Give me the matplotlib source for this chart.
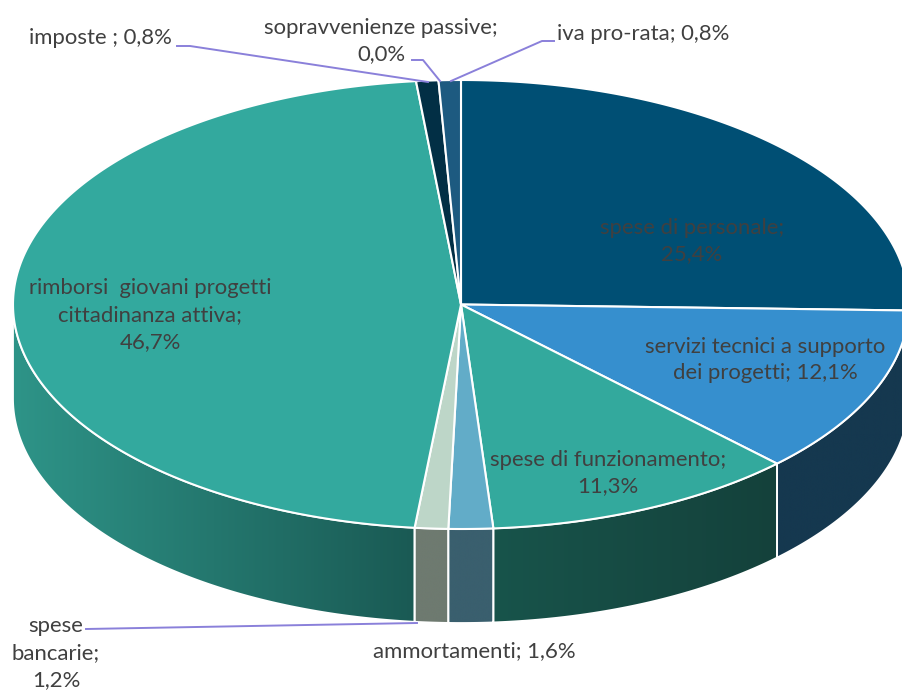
#!/usr/bin/env python
u"""
plot.py
3D looking pie chart of the cost items, drawn in pixel coordinates
"""
import numpy as np
import matplotlib
matplotlib.use('Agg')
import matplotlib.pyplot as plt
from matplotlib.colors import LinearSegmentedColormap
from matplotlib.patches import Polygon

#-- data, clockwise from 12 o'clock
names = ['spese di personale', 'servizi tecnici', 'spese di funzionamento',
    'ammortamenti', 'spese bancarie', 'rimborsi giovani', 'imposte',
    'sopravvenienze passive', 'iva pro-rata']
values = [25.4, 12.1, 11.3, 1.6, 1.2, 46.7, 0.8, 0.0, 0.8]
top_colors = ['#004f74', '#368fce', '#33a99d', '#62acc8', '#bdd6c8',
    '#33a99e', '#022f45', '#ffffff', '#1d5a80']
#-- side wall colours, left and right end of the gradient
side_left = ['#003350', '#15384f', '#18544b', '#3a5f6e', '#6e7a70',
    '#2e9488', '#022f45', '#ffffff', '#1d5a80']
side_right = ['#003350', '#15384f', '#14413b', '#3a5f6e', '#6e7a70',
    '#1a5a54', '#022f45', '#ffffff', '#1d5a80']

labels = ['spese di personale;\n25,4%', 'servizi tecnici a supporto\ndei progetti; 12,1%',
    'spese di funzionamento;\n11,3%', 'ammortamenti; 1,6%', 'spese\nbancarie;\n1,2%',
    'rimborsi  giovani progetti\ncittadinanza attiva;\n46,7%', 'imposte ; 0,8%',
    'sopravvenienze passive;\n0,0%', 'iva pro-rata; 0,8%']
label_x = [692, 765, 608, 474, 56, 150, 100, 381, 643]
label_y = [241, 360, 473, 651, 653, 315, 38, 41, 34]

#-- leader lines: index of the slice and the pixel path
leaders = {4: [(86, 629), (417, 623)],
    6: [(177, 46), (190, 46), (428, 82)],
    7: [(412, 60), (423, 60), (440, 81)],
    8: [(554, 41), (542, 41), (451, 81)]}

#-- geometry of the pie in pixels
cx, cy = 461., 304.5
rx, ry = 448., 224.5
depth = 94.
W, H = 903, 693


def rim(t):
    #-- t is the angle clockwise from 12 o'clock in radians
    return cx + rx*np.sin(t), cy - ry*np.cos(t)


def main():
    fig = plt.figure(figsize=(W/100., H/100.), dpi=100)
    ax = fig.add_axes([0, 0, 1, 1])
    ax.set_axis_off()

    frac = np.array(values)/np.sum(values)
    edges = 2*np.pi*np.concatenate([[0], np.cumsum(frac)])

    #-- side walls first, only where the rim faces the viewer
    for i in range(len(values)):
        if values[i] == 0:
            continue
        a = max(edges[i], np.pi/2)
        b = min(edges[i+1], 3*np.pi/2)
        if a >= b:
            continue
        t = np.linspace(a, b, 200)
        x, y = rim(t)
        verts = np.concatenate([np.c_[x, y], np.c_[x, y + depth][::-1]])
        cmap = LinearSegmentedColormap.from_list('side', [side_left[i], side_right[i]])
        im = ax.imshow(np.linspace(0, 1, 256).reshape(1, -1), cmap=cmap, aspect='auto',
            extent=[x.min(), x.max(), y.max() + depth, y.min()], zorder=1)
        clip = Polygon(verts, closed=True, transform=ax.transData)
        im.set_clip_path(clip)
        ax.add_patch(Polygon(verts, closed=True, fill=False, edgecolor='white',
            linewidth=1.3, zorder=2))

    #-- top faces
    for i in range(len(values)):
        if values[i] == 0:
            continue
        t = np.linspace(edges[i], edges[i+1], 200)
        x, y = rim(t)
        verts = np.concatenate([[[cx, cy]], np.c_[x, y]])
        ax.add_patch(Polygon(verts, closed=True, facecolor=top_colors[i],
            edgecolor='white', linewidth=1.5, joinstyle='round', zorder=3))

    #-- leader lines
    for i in leaders:
        path = np.array(leaders[i])
        ax.plot(path[:, 0], path[:, 1], color='#8a80da', linewidth=1.4, zorder=4)

    #-- labels
    for i in range(len(labels)):
        ax.text(label_x[i], label_y[i], labels[i], family='Lato', fontsize=15.9,
            color='#404040', ha='center', va='center', multialignment='center',
            linespacing=1.42, zorder=5)

    ax.set_xlim(0, W)
    ax.set_ylim(H, 0)
    fig.savefig('out.png', dpi=100)


if __name__ == '__main__':
    main()
